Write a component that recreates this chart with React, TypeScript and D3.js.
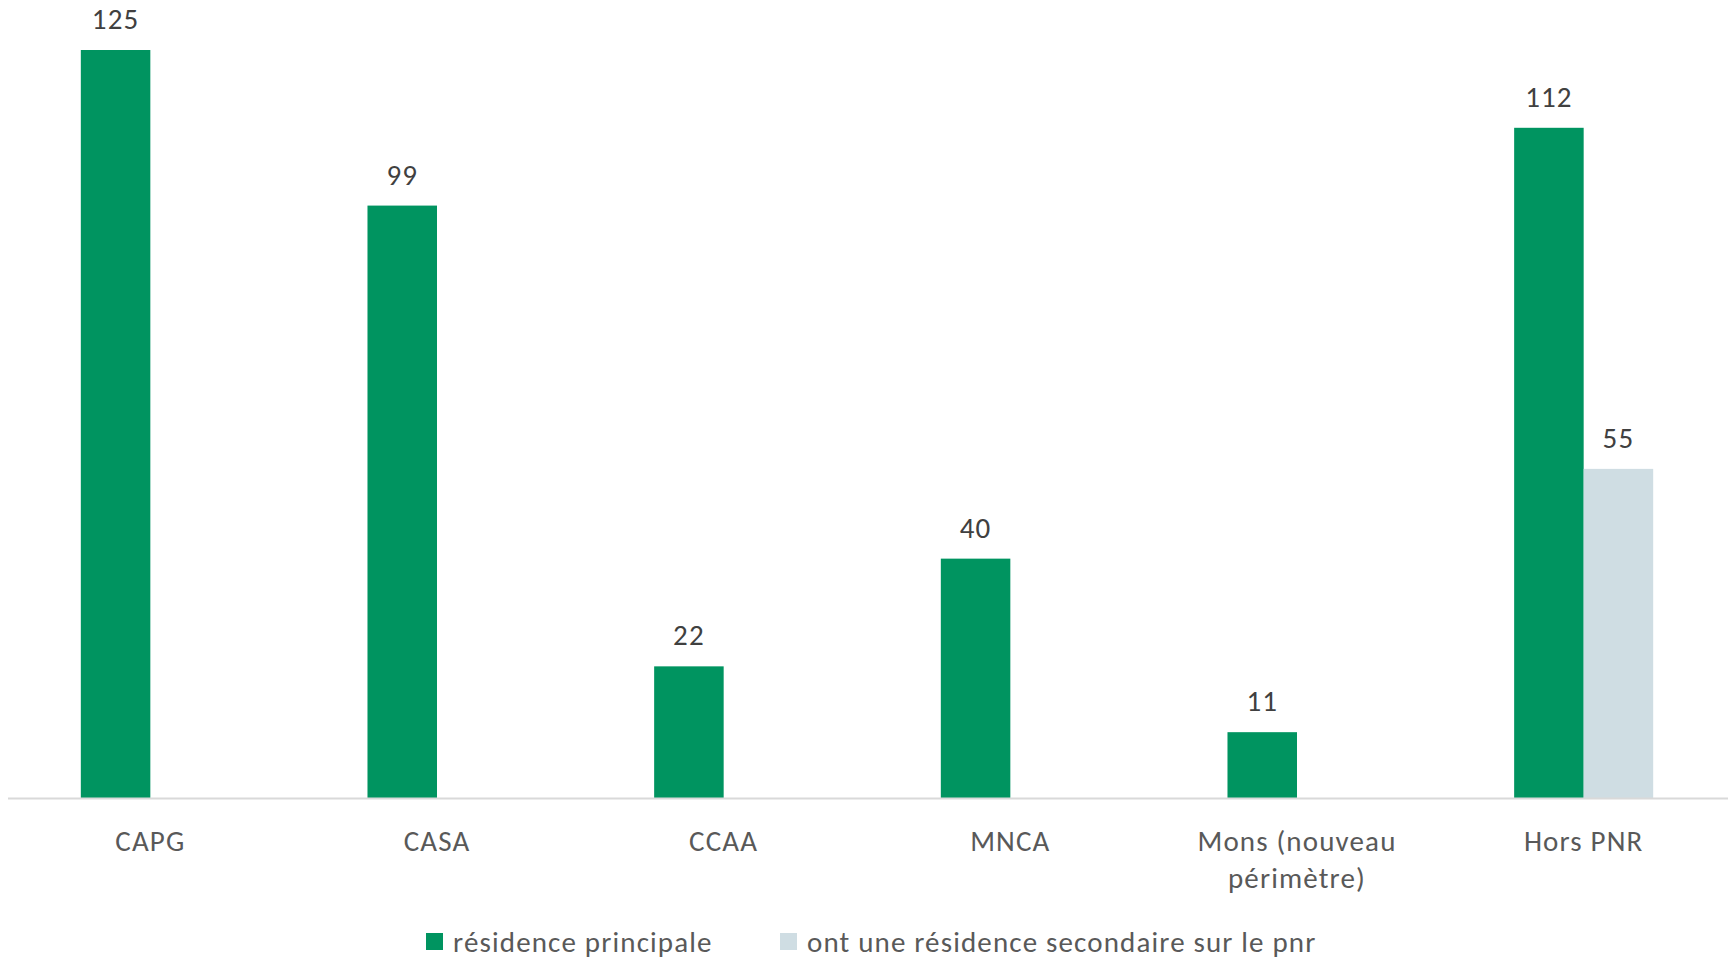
import React, { useEffect, useRef } from "react";
import * as d3 from "d3";

const categories = ["CAPG", "CASA", "CCAA", "MNCA", "Mons (nouveau périmètre)", "Hors PNR"];
const seriesNames = ["résidence principale", "ont une résidence secondaire sur le pnr"];
const principale: (number | null)[] = [125, 99, 22, 40, 11, 112];
const secondaire: (number | null)[] = [null, null, null, null, null, 55];
const colors = ["#009460", "#cfdde3"];

const W = 1728;
const H = 960;
const FONT = "Calibri, Carlito, Lato, sans-serif";
const LS = "1.15px";

export default function App() {
  const ref = useRef<SVGSVGElement | null>(null);

  useEffect(() => {
    const svg = d3.select(ref.current);
    svg.selectAll("*").remove();

    const x = d3.scaleBand<string>().domain(categories).range([7, 1727]).paddingInner(0.515).paddingOuter(0.2575);
    const x1 = d3.scaleBand<number>().domain([0, 1]).range([0, x.bandwidth()]);
    const yMax = d3.max(principale.concat(secondaire).map((v) => v ?? 0)) as number;
    const y = d3.scaleLinear().domain([0, yMax]).range([798, 50]);

    const series = [principale, secondaire];

    series.forEach((vals, si) => {
      const g = svg.append("g");
      categories.forEach((c, i) => {
        const v = vals[i];
        if (v == null) return;
        const bx = (x(c) as number) + (x1(si) as number);
        g.append("rect")
          .attr("x", bx)
          .attr("y", y(v))
          .attr("width", x1.bandwidth())
          .attr("height", y(0) - y(v))
          .attr("fill", colors[si]);
        g.append("text")
          .attr("x", bx + x1.bandwidth() / 2)
          .attr("y", y(v) - 21)
          .attr("text-anchor", "middle")
          .attr("font-family", FONT)
          .attr("font-size", 29)
          .attr("letter-spacing", LS)
          .attr("fill", "#404040")
          .text(String(v));
      });
    });

    // axis line
    svg.append("line")
      .attr("x1", 8).attr("x2", 1728)
      .attr("y1", 798.5).attr("y2", 798.5)
      .attr("stroke", "#d9d9d9").attr("stroke-width", 2);

    // category labels with wrapping
    const maxW = x.step() * 0.72;
    categories.forEach((c) => {
      const cx = (x(c) as number) + x.bandwidth() / 2;
      const t = svg.append("text")
        .attr("x", cx)
        .attr("y", 851)
        .attr("text-anchor", "middle")
        .attr("font-family", FONT)
        .attr("font-size", 29)
        .attr("letter-spacing", LS)
        .attr("fill", "#595959");
      const words = c.split(" ");
      let line: string[] = [];
      let lineNo = 0;
      let tspan = t.append("tspan").attr("x", cx).attr("y", 851);
      words.forEach((w) => {
        line.push(w);
        tspan.text(line.join(" "));
        if ((tspan.node() as SVGTSpanElement).getComputedTextLength() > maxW && line.length > 1) {
          line.pop();
          tspan.text(line.join(" "));
          line = [w];
          lineNo++;
          tspan = t.append("tspan").attr("x", cx).attr("y", 851 + lineNo * 36.5).text(w);
        }
      });
    });

    // legend
    const legendX = [426, 780];
    seriesNames.forEach((n, i) => {
      const g = svg.append("g");
      g.append("rect")
        .attr("x", legendX[i]).attr("y", 933)
        .attr("width", 17).attr("height", 17)
        .attr("fill", colors[i]);
      g.append("text")
        .attr("x", legendX[i] + 27)
        .attr("y", 952)
        .attr("font-family", FONT)
        .attr("font-size", 29)
        .attr("letter-spacing", LS)
        .attr("fill", "#595959")
        .text(n);
    });
  }, []);

  return (
    <svg
      ref={ref}
      width={W}
      height={H}
      style={{ position: "absolute", left: 0, top: 0, background: "#fff" }}
    />
  );
}
